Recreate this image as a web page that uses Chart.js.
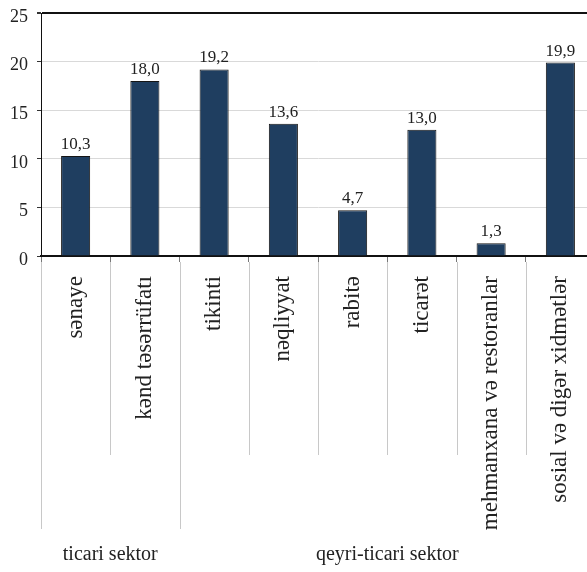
<!DOCTYPE html>
<html>
<head>
<meta charset="utf-8">
<script src="https://cdn.jsdelivr.net/npm/chart.js@4"></script>
<style>
  html, body { margin: 0; padding: 0; background: #fff; overflow: hidden; }
  #wrap { width: 587px; height: 572px; overflow: hidden; }
  canvas { display: block; }
</style>
</head>
<body>
<div id="wrap"><canvas id="c" width="596" height="572"></canvas></div>
<script>
// ---- data ----
const categories = ['sənaye', 'kənd təsərrüfatı', 'tikinti', 'nəqliyyat', 'rabitə', 'ticarət', 'mehmanxana və restoranlar', 'sosial və digər xidmətlər'];
const values = [10.3, 18.0, 19.2, 13.6, 4.7, 13.0, 1.3, 19.9];
const yTicks = [0, 5, 10, 15, 20, 25];
const groupLabels = ['ticari sektor', 'qeyri-ticari sektor'];
const groupSizes = [2, 6];

const SERIF = "'Liberation Serif', 'Times New Roman', serif";

const fmt = v => v.toFixed(1).replace('.', ',');

const valueLabels = {
  id: 'valueLabels',
  afterDatasetsDraw(chart) {
    const ctx = chart.ctx;
    const meta = chart.getDatasetMeta(0);
    ctx.save();
    ctx.font = '17px ' + SERIF;
    ctx.fillStyle = '#222';
    ctx.textAlign = 'center';
    ctx.textBaseline = 'bottom';
    meta.data.forEach((bar, i) => {
      ctx.fillText(fmt(values[i]), bar.x, bar.y - 3);
    });
    ctx.restore();
  }
};

const separators = {
  id: 'separators',
  afterDraw(chart) {
    const ctx = chart.ctx;
    const xs = chart.scales.x;
    const base = chart.chartArea.bottom;
    const bounds = new Set([0]);
    let acc = 0;
    groupSizes.forEach(s => { acc += s; bounds.add(acc); });
    ctx.save();
    ctx.strokeStyle = '#c8c8c8';
    ctx.lineWidth = 1;
    for (let i = 0; i <= categories.length; i++) {
      const x = Math.round(xs.getPixelForValue(i - 0.5)) + 0.5;
      const len = bounds.has(i) ? 273 : 199;
      ctx.beginPath();
      ctx.moveTo(x, base + 6);
      ctx.lineTo(x, base + len);
      ctx.stroke();
    }
    ctx.font = '20px ' + SERIF;
    ctx.fillStyle = '#222';
    ctx.textAlign = 'center';
    ctx.textBaseline = 'middle';
    let start = 0;
    groupSizes.forEach((s, g) => {
      const x0 = xs.getPixelForValue(start - 0.5);
      const x1 = xs.getPixelForValue(start + s - 0.5);
      ctx.fillText(groupLabels[g], (x0 + x1) / 2, base + 299);
      start += s;
    });
    ctx.restore();
  }
};

new Chart(document.getElementById('c'), {
  type: 'bar',
  data: {
    labels: categories,
    datasets: [{
      data: values,
      backgroundColor: '#1F3E60',
      borderColor: '#151515',
      borderWidth: 1,
      barPercentage: 0.42,
      categoryPercentage: 1.0
    }]
  },
  options: {
    responsive: false,
    animation: false,
    devicePixelRatio: 1,
    layout: { padding: { top: 13, right: 1, left: 0, bottom: 0 } },
    plugins: { legend: { display: false }, tooltip: { enabled: false } },
    scales: {
      x: {
        offset: true,
        grid: {
          display: true,
          drawOnChartArea: false,
          drawTicks: true,
          tickLength: 6,
          tickColor: '#777',
          offset: true
        },
        border: { display: true, color: '#111', width: 2 },
        ticks: {
          autoSkip: false,
          minRotation: 90,
          maxRotation: 90,
          padding: 14,
          color: '#222',
          font: { family: SERIF, size: 23 }
        },
        afterFit(scale) {
          scale.height = 316;
          scale.paddingLeft = 0; scale.paddingRight = 0;
          scale.paddingTop = 0; scale.paddingBottom = 0;
        }
      },
      y: {
        min: 0,
        max: 25,
        afterBuildTicks(scale) { scale.ticks = yTicks.map(v => ({ value: v })); },
        grid: {
          color: ctx => (ctx.tick && (ctx.tick.value === 25 || ctx.tick.value === 0)) ? '#111' : '#d9d9d9',
          lineWidth: ctx => (ctx.tick && ctx.tick.value === 25) ? 2 : 1,
          tickLength: 4,
          tickColor: '#333'
        },
        border: { display: true, color: '#111', width: 1 },
        ticks: {
          padding: 9,
          labelOffset: 4,
          color: '#222',
          font: { family: SERIF, size: 18 }
        },
        afterFit(scale) {
          scale.width = 41;
          scale.paddingTop = 0; scale.paddingBottom = 0;
          scale.paddingLeft = 0; scale.paddingRight = 0;
        }
      }
    }
  },
  plugins: [valueLabels, separators]
});
</script>
</body>
</html>
